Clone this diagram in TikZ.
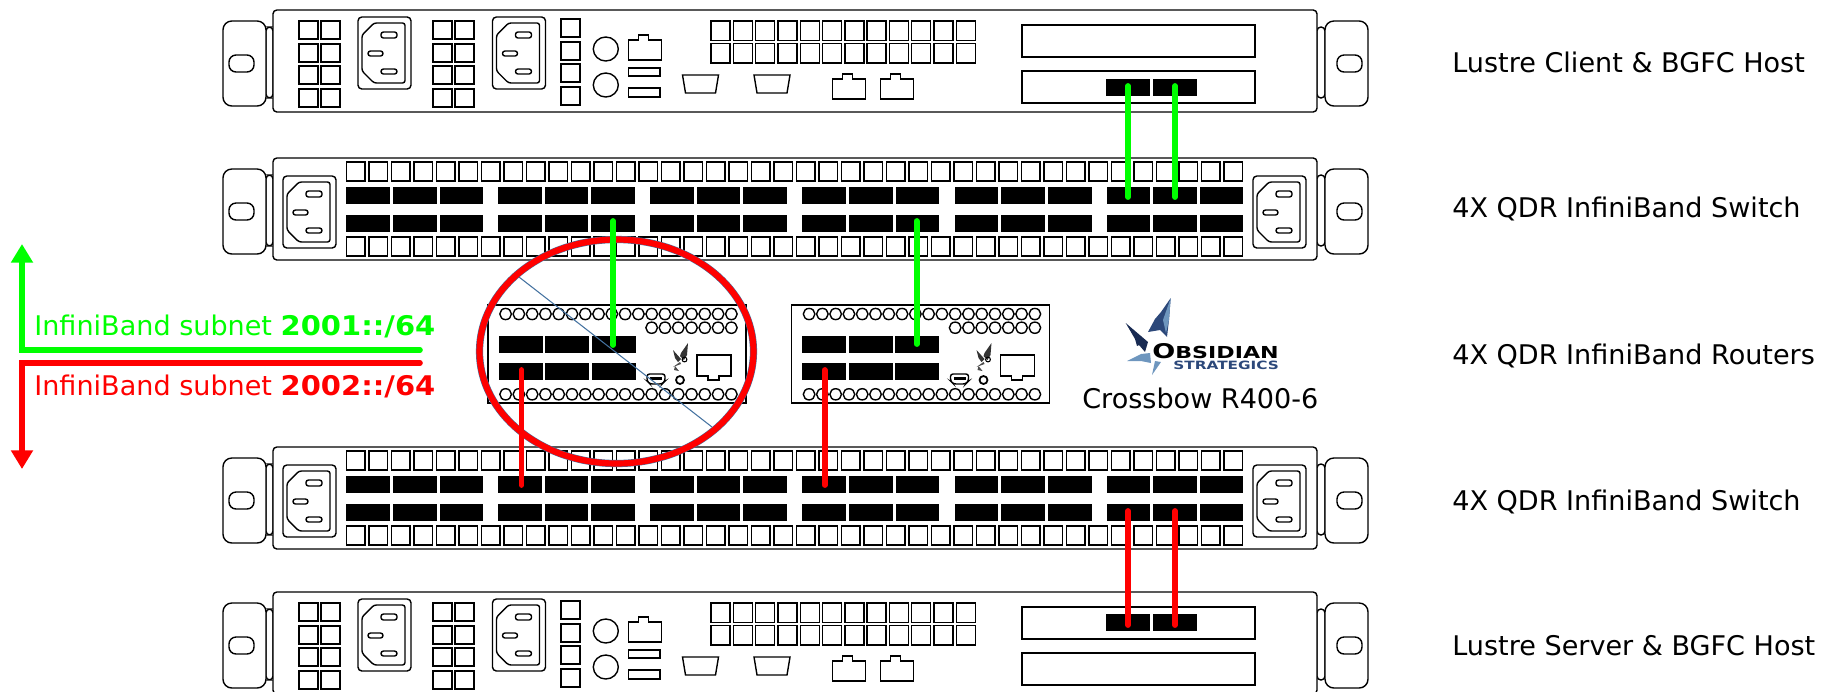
\documentclass[tikz,border=0pt]{standalone}
\usepackage{fontspec}
\setmainfont{DejaVu Sans}[BoldFeatures={FakeStretch=1.07}]
\newfontfamily\logofont{DejaVu Sans}[FakeStretch=1.34]
\usetikzlibrary{arrows.meta}

\definecolor{ibgreen}{RGB}{0,255,0}
\definecolor{ibred}{RGB}{255,0,0}
\definecolor{ringblue}{RGB}{68,114,160}
\definecolor{logonavy}{RGB}{24,42,82}
\definecolor{logosky}{RGB}{110,150,190}
\definecolor{logoblue}{RGB}{44,72,122}

\tikzset{
    hull/.style={draw=black, line width=0.8pt, rounded corners=2.2pt, fill=white},
    portbox/.style={draw=black, line width=0.8pt},
    qsfp/.style={fill=black},
    pinbox/.style={draw=black, line width=0.8pt, rounded corners=1.4pt},
    iblink/.style={line width=3.3pt, line cap=round},
    subnetline/.style={line width=3.2pt, line cap=round, line join=miter},
    rowlabel/.style={anchor=base west, font=\fontsize{15.4}{15.4}\selectfont, inner sep=0pt}
}

% Netstekker: (#1,#2) is de linkerbovenhoek van de buitenrand
\newcommand{\ieccon}[2]{
    \begin{scope}[shift={(#1,#2)}]
        \draw[hull] (0,0) rectangle (53,72);
        \draw[pinbox] (16,6) -- (47,6) -- (47,66) -- (16,66) -- (4,54) -- (4,18) -- cycle;
        \draw[pinbox] (23,15) rectangle (39,21);
        \draw[pinbox] (10,34) rectangle (25,39);
        \draw[pinbox] (23,52) rectangle (39,57);
    \end{scope}
}

% Oren en kast, gedeeld door server en switch
\newcommand{\rackhull}{
    \draw[hull] (266,17) rectangle (273,88);
    \draw[hull] (1317,17) rectangle (1325,88);
    \draw[hull, rounded corners=5pt] (223,11) rectangle (266,96);
    \draw[hull, rounded corners=5pt] (1325,11) rectangle (1368,96);
    \draw[hull, rounded corners=4pt] (229,45) rectangle (254,62);
    \draw[hull, rounded corners=4pt] (1337,45) rectangle (1362,62);
    \draw[hull] (273,0) rectangle (1317,102);
}

\newcommand{\rjport}[2]{
    \draw[portbox] (#1,#2+5) -| (#1+10,#2) -| (#1+20,#2+5) -| (#1+33,#2+25) -| cycle;
}

% Server met verticale verschuiving #1
\newcommand{\drawserver}[1]{
    \begin{scope}[yshift=-#1*0.02cm]
        \begin{scope}[yshift=-10*0.02cm]
            \rackhull
        \end{scope}
        \foreach \x in {299,321,433,455} {
            \foreach \y in {21,44,66,89} {
                \draw[portbox] (\x,\y) rectangle ++(19,18);
            }
        }
        \ieccon{358}{17}
        \ieccon{492.5}{17}
        \foreach \y in {19,42,64,87} {
            \draw[portbox] (561,\y) rectangle ++(19,18);
        }
        \draw[portbox] (605.8,49) ellipse [x radius=12.5, y radius=12];
        \draw[portbox] (605.8,85) ellipse [x radius=12.5, y radius=12];
        \rjport{628.6}{35}
        \draw[portbox] (628.6,68) rectangle (660,76);
        \draw[portbox] (628.6,88) rectangle (660,97);
        \foreach \x in {682.5,754} {
            \draw[portbox] (\x,75) -- ++(36,0) -- ++(-3,18) -- ++(-30,0) -- cycle;
        }
        \foreach \i in {0,...,11} {
            \draw[portbox] ({711+22.3*\i},21) rectangle ++(19,19.5);
            \draw[portbox] ({711+22.3*\i},43.5) rectangle ++(19,19.5);
        }
        \rjport{832.5}{74}
        \rjport{880.5}{74}
        \draw[portbox] (1022,25) rectangle (1255,57);
        \draw[portbox] (1022,71) rectangle (1255,103);
    \end{scope}
}

% Switch met verticale verschuiving #1
\newcommand{\drawswitch}[1]{
    \begin{scope}[yshift=-#1*0.02cm]
        \begin{scope}[yshift=-158*0.02cm]
            \rackhull
        \end{scope}
        \ieccon{283}{176}
        \ieccon{1253}{176}
        \foreach \i in {0,...,39} {
            \draw[portbox] ({346.4+22.5*\i},162) rectangle ++(18.6,19);
            \draw[portbox] ({346.4+22.5*\i},237) rectangle ++(18.6,19);
        }
        \foreach \g in {346.4,498,650,802.4,954.7,1106.5} {
            \foreach \b in {0,1,2} {
                \fill[qsfp] ({\g+46.6*\b},187) rectangle ++(43.6,17);
                \fill[qsfp] ({\g+46.6*\b},215) rectangle ++(43.6,17);
            }
        }
    \end{scope}
}

% Router met linkerkant #1
\newcommand{\drawrouter}[1]{
    \begin{scope}[xshift=#1*0.02cm]
        \draw[portbox, line width=1pt] (0,305) rectangle (258,403);
        \foreach \i in {0,...,17} {
            \draw[portbox] ({17.6+13.28*\i},314) ellipse [x radius=5.8, y radius=5.6];
            \draw[portbox] ({17.6+13.28*\i},394.3) ellipse [x radius=5.8, y radius=5.6];
        }
        \foreach \i in {11,...,17} {
            \draw[portbox] ({17.6+13.28*\i},327.7) ellipse [x radius=5.8, y radius=5.6];
        }
        \foreach \b in {0,1,2} {
            \fill[qsfp] ({10.6+46.5*\b},335.7) rectangle ++(44,17);
            \fill[qsfp] ({10.6+46.5*\b},363.3) rectangle ++(44,17);
        }
        \draw[pinbox] (159,374) -- (177,374) -- (177,381) -- (174,384) -- (162,384) -- (159,381) -- cycle;
        \fill[black] (162,377) rectangle (174,380);
        \draw[portbox, line width=1pt] (192,380) circle [radius=4];
        \draw[portbox] (209,355) -- (243,355) -- (243,376) -- (231,376) -- (231,380) -- (220,380) -- (220,376) -- (209,376) -- cycle;
        % klein logo
        \fill[black!80] (200,343) -- (199,355) -- (196,360) -- (192,356) -- (193,353) -- cycle;
        \fill[black!80] (185,350) -- (193,359) -- (190,362) -- (187,358) -- cycle;
        \fill[black!70] (185,367) -- (192,362) -- (193,364) -- cycle;
        \fill[black!70] (186,370) -- (191,371) -- (187,366) -- cycle;
        \draw[portbox, line width=0.6pt] (196.5,359.5) circle [radius=2.4];
    \end{scope}
}

\begin{document}
\begin{tikzpicture}[x=0.02cm, y=-0.02cm]

    \clip (0,0) rectangle (1823,691);

    % --- APPARATEN TEKENEN ---
    \drawserver{0}
    \drawswitch{0}
    \drawrouter{488}
    \drawrouter{791.5}
    \drawswitch{289}
    \drawserver{582}

    % poorten in de insteekkaarten
    \fill[qsfp] (1106,79) rectangle (1150,96);
    \fill[qsfp] (1153,79) rectangle (1197,96);
    \fill[qsfp] (1106,614) rectangle (1150,631);
    \fill[qsfp] (1153,614) rectangle (1197,631);

    % --- RODE CIRKEL MET STREEP ---
    \draw[ringblue, line width=4.1pt] (616.5,351.5) ellipse [x radius=137, y radius=112];
    \draw[ibred, line width=3.5pt] (616.5,351.5) ellipse [x radius=137, y radius=112];
    \coordinate (slashtop) at (519,277);
    \coordinate (slashend) at (712,427);
    \draw[ringblue, line width=0.6pt] (slashtop) -- (slashend);

    % --- VERBINDINGEN ---
    % Boven de routers: subnet 2001
    \coordinate (hostaport) at (1128,86);
    \coordinate (hostbport) at (1175,86);
    \coordinate (swaport) at (1128,197);
    \coordinate (swbport) at (1175,197);
    \coordinate (swcport) at (613,221);
    \coordinate (swdport) at (916.7,221);
    \coordinate (routeraup) at (613,345);
    \coordinate (routerbup) at (916.7,344);
    \draw[iblink, ibgreen] (hostaport) -- (swaport);
    \draw[iblink, ibgreen] (hostbport) -- (swbport);
    \draw[iblink, ibgreen] (swcport) -- (routeraup);
    \draw[iblink, ibgreen] (swdport) -- (routerbup);

    % Onder de routers: subnet 2002
    \coordinate (routeradown) at (521.5,370);
    \coordinate (routerbdown) at (824.7,370);
    \coordinate (loweraport) at (521.5,485);
    \coordinate (lowerbport) at (824.7,485);
    \coordinate (lowercport) at (1128,511);
    \coordinate (lowerdport) at (1175,511);
    \coordinate (serveraport) at (1128,625);
    \coordinate (serverbport) at (1175,625);
    \draw[iblink, ibred] (routeradown) -- (loweraport);
    \draw[iblink, ibred] (routerbdown) -- (lowerbport);
    \draw[iblink, ibred] (lowercport) -- (serveraport);
    \draw[iblink, ibred] (lowerdport) -- (serverbport);

    % --- SUBNET PIJLEN ---
    \coordinate (greenstart) at (420,350);
    \coordinate (greenbend) at (22,350);
    \coordinate (greentip) at (22,244);
    \coordinate (redstart) at (420,363);
    \coordinate (redbend) at (22,363);
    \coordinate (redtip) at (22,469);
    \draw[subnetline, ibgreen, -{Triangle[length=10.6pt, width=12pt]}] (greenstart) -- (greenbend) -- (greentip);
    \draw[subnetline, ibred, -{Triangle[length=10.6pt, width=12pt]}] (redstart) -- (redbend) -- (redtip);

    \node[rowlabel, text=ibgreen] (greenlabel) at (34,335) {InfiniBand subnet \textbf{2001::/64}};
    \node[rowlabel, text=ibred] (redlabel) at (34,395) {InfiniBand subnet \textbf{2002::/64}};

    % --- LABELS RECHTS ---
    \node[rowlabel] (hostlabel) at (1452,72) {Lustre Client \& BGFC Host};
    \node[rowlabel] (swuplabel) at (1452,217) {4X QDR InfiniBand Switch};
    \node[rowlabel] (routerlabel) at (1452,364) {4X QDR InfiniBand Routers};
    \node[rowlabel] (swdownlabel) at (1452,510) {4X QDR InfiniBand Switch};
    \node[rowlabel] (serverlabel) at (1452,655) {Lustre Server \& BGFC Host};

    % --- OBSIDIAN LOGO ---
    \fill[logoblue] (1170.7,298) -- (1169,320) -- (1167,337) -- (1160,330) -- (1148,332) -- (1155,319) -- (1161,312) -- cycle;
    \fill[logosky] (1170.7,298) -- (1163,320) -- (1166,333) -- (1169,320) -- cycle;
    \fill[logonavy] (1125.7,323) -- (1148,342) -- (1145,352) -- (1139,345) -- (1137,346) -- (1135,339) -- cycle;
    \fill[logosky] (1127,361) -- (1141,354) -- (1150,353) -- (1151,363) -- (1141,361) -- cycle;
    \fill[logosky] (1152,375) -- (1155,361) -- (1161,362) -- cycle;
    \node[anchor=base west, inner sep=0pt, text=black, font=\logofont\bfseries] (obsidianname) at (1152,358)
        {\fontsize{11.5}{11.5}\selectfont O\fontsize{9.4}{9.4}\selectfont BSIDIAN};
    \node[anchor=base west, inner sep=0pt, text=logoblue, font=\logofont\bfseries\fontsize{6.5}{6.5}\selectfont] (obsidiansub) at (1173,369.5) {STRATEGICS};

    \node[rowlabel] (modellabel) at (1082,408) {Crossbow R400-6};

\end{tikzpicture}
\end{document}
